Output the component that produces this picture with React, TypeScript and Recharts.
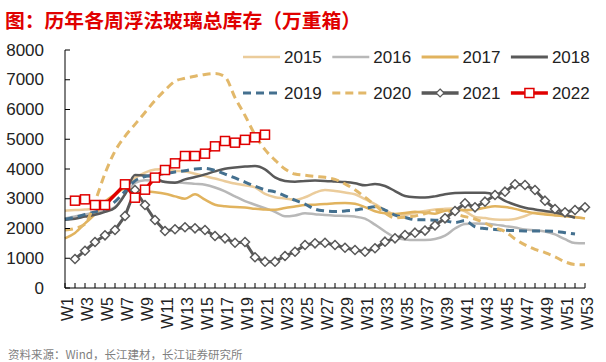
import React from "react";
import { LineChart, Line, XAxis, YAxis } from "recharts";

// week categories on the x axis
const weeks = [
  "W1", "W2", "W3", "W4", "W5", "W6", "W7", "W8", "W9", "W10",
  "W11", "W12", "W13", "W14", "W15", "W16", "W17", "W18", "W19", "W20",
  "W21", "W22", "W23", "W24", "W25", "W26", "W27", "W28", "W29", "W30",
  "W31", "W32", "W33", "W34", "W35", "W36", "W37", "W38", "W39", "W40",
  "W41", "W42", "W43", "W44", "W45", "W46", "W47", "W48", "W49", "W50",
  "W51", "W52", "W53",
];

const yTicks = [0, 1000, 2000, 3000, 4000, 5000, 6000, 7000, 8000];

// inventory, 万重箱
const s2015 = [
  2600, 2620, 2635, 2680, 2860, 3120, 3450, 3700, 3880, 3980,
  4000, 3940, 3915, 3840, 3760, 3680, 3590, 3510, 3450, 3380,
  3160, 3050, 3010, 2960, 3050, 3200, 3290, 3260, 3210, 3150,
  2990, 2820, 2620, 2480, 2460, 2530, 2590, 2640, 2660, 2670,
  2580, 2390, 2350, 2300, 2290, 2320, 2420, 2530, 2510, 2470,
  2430, 2390, 2340,
];
const s2016 = [
  2340, 2400, 2470, 2530, 2590, 2720, 3150, 3530, 3620, 3610,
  3570, 3550, 3530, 3500, 3470, 3380, 3250, 3080, 2920, 2800,
  2680, 2560, 2410, 2440, 2510, 2480, 2450, 2430, 2420, 2400,
  2330, 2130, 1900, 1700, 1630, 1610, 1615, 1650, 1760, 2000,
  2150, 2170, 2160, 2130, 2080, 2030, 1970, 1940, 1900, 1800,
  1640, 1510, 1500,
];
const s2017 = [
  1670, 1850, 2170, 2480, 2900, 3150, 3340, 3310, 3250, 3220,
  3170, 3080, 3000, 3150, 2970, 2800, 2750, 2720, 2710, 2660,
  2640, 2630, 2690, 2740, 2790, 2800, 2820, 2850, 2860, 2830,
  2720, 2580, 2510, 2490, 2520, 2560, 2530, 2500, 2600, 2620,
  2620, 2630, 2700, 2750, 2720, 2660, 2580, 2510, 2470, 2440,
  2410, 2380, 2340,
];
const s2018 = [
  2290, 2330, 2400, 2460, 2560, 2700, 3150, 3800, 3780, 3700,
  3560, 3540, 3650, 3730, 3820, 3920, 4010, 4050, 4080, 4100,
  3990, 3720, 3600, 3575, 3600, 3610, 3600, 3580, 3560, 3520,
  3450, 3500, 3430, 3260, 3090, 3050, 3040, 3080, 3150, 3190,
  3200, 3200, 3200, 3120, 2930, 2800, 2700, 2640, 2590, 2540,
  2460, 2360, null,
];
const s2019 = [
  2310, 2380, 2470, 2560, 2660, 2900, 3250, 3600, 3750, 3800,
  3850, 3900, 3940, 4000, 4020, 3950, 3830, 3700, 3560, 3420,
  3300, 3230, 3100, 2950, 2820, 2650, 2590, 2570, 2590, 2620,
  2680, 2730, 2620, 2450, 2370, 2300, 2290, 2280, 2260, 2200,
  2260, 2060, 2000, 1970, 1940, 1930, 1920, 1915, 1915, 1900,
  1860, 1815, null,
];
const s2020 = [
  1950, 2000, 2150, 2900, 3850, 4600, 5100, 5500, 5900, 6300,
  6650, 6950, 7050, 7120, 7180, 7210, 7100, 6400, 5800, 5150,
  4650, 4300, 4000, 3830, 3790, 3750, 3720, 3650, 3500, 3300,
  3050, 2780, 2520, 2360, 2380, 2420, 2500, 2600, 2620, 2500,
  2400, 2320, 2180, 2020, 1900, 1650, 1450, 1300, 1190, 1050,
  880, 790, 780,
];
const s2021 = [
  null, 975, 1254, 1546, 1770, 1950, 2420, 3294, 2790, 2286,
  1916, 1973, 2040, 2006, 1950, 1748, 1670, 1523, 1546, 1032,
  885, 885, 1075, 1220, 1445, 1502, 1523, 1445, 1355, 1277,
  1220, 1334, 1557, 1670, 1781, 1860, 1930, 2100, 2342, 2588,
  2846, 2712, 2902, 3126, 3238, 3485, 3462, 3294, 2935, 2655,
  2544, 2622, 2712,
];
const s2022 = [
  null, 2935, 2980, 2790, 2790, null, 3485, 3035, 3305, 3710,
  3966, 4190, 4437, 4437, 4515, 4762, 4941, 4885, 4980, 5065,
  5153,
];

const chartData = weeks.map((week, i) => ({
  week,
  y2015: s2015[i],
  y2016: s2016[i],
  y2017: s2017[i],
  y2018: s2018[i],
  y2019: s2019[i],
  y2020: s2020[i],
  y2021: s2021[i],
  y2022: i < s2022.length ? s2022[i] : null,
}));

const FONT = '"Liberation Sans", Arial, sans-serif';
const CJK = '"Noto Sans CJK SC", sans-serif';

const XTick = (props: any) => {
  const { x, y, payload, index } = props;
  return (
    <g>
      <line x1={x} x2={x} y1={y} y2={y - 5} stroke="#000" strokeWidth={1} />
      {index % 2 === 0 && (
        <text
          transform={`translate(${x + 2},${y + 9}) rotate(-90)`}
          textAnchor="end"
          dominantBaseline="central"
          fontSize={16}
          fontFamily={FONT}
          fill="#222"
        >
          {payload.value}
        </text>
      )}
    </g>
  );
};

const YTick = (props: any) => {
  const { x, y, payload } = props;
  return (
    <g>
      <line x1={x} x2={x + 5} y1={y} y2={y} stroke="#000" strokeWidth={1} />
      <text
        x={x - 21}
        y={y}
        textAnchor="end"
        dominantBaseline="central"
        fontSize={17}
        fontFamily={FONT}
        fill="#222"
      >
        {payload.value}
      </text>
    </g>
  );
};

const squareDot = (p: any) => {
  if (p.value == null || p.cx == null) return <g key={p.index} />;
  return (
    <rect
      key={p.index}
      x={p.cx - 4.5}
      y={p.cy - 4.5}
      width={9}
      height={9}
      fill="#fff"
      stroke="#E00000"
      strokeWidth={1.5}
    />
  );
};

const diamondDot = (p: any) => {
  if (p.value == null || p.cx == null) return <g key={p.index} />;
  const { cx, cy } = p;
  const r = 4.5;
  return (
    <polygon
      key={p.index}
      points={`${cx},${cy - r} ${cx + r},${cy} ${cx},${cy + r} ${cx - r},${cy}`}
      fill="#fff"
      stroke="#595959"
      strokeWidth={1.5}
    />
  );
};

// legend entries: label, colour, dash, marker
const legendItems = [
  { name: "2015", color: "#EBCC9B", dash: "", w: 2.5, marker: "" },
  { name: "2016", color: "#B8B8B8", dash: "", w: 2.5, marker: "" },
  { name: "2017", color: "#E1B35E", dash: "", w: 3, marker: "" },
  { name: "2018", color: "#595959", dash: "", w: 3, marker: "" },
  { name: "2019", color: "#44708F", dash: "8 5", w: 3, marker: "" },
  { name: "2020", color: "#E2B86A", dash: "8 5", w: 3, marker: "" },
  { name: "2021", color: "#595959", dash: "", w: 3.5, marker: "diamond" },
  { name: "2022", color: "#E00000", dash: "", w: 3.5, marker: "square" },
];

const ChartLegend = () => (
  <svg
    width={606}
    height={362}
    style={{ position: "absolute", left: 0, top: 0, pointerEvents: "none" }}
  >
    {legendItems.map((item, i) => {
      const x0 = 243 + (i % 4) * 89.3;
      const y0 = i < 4 ? 57 : 93;
      const mid = x0 + 18.5;
      return (
        <g key={item.name}>
          <line
            x1={x0}
            x2={x0 + 37}
            y1={y0}
            y2={y0}
            stroke={item.color}
            strokeWidth={item.w}
            strokeDasharray={item.dash || undefined}
          />
          {item.marker === "diamond" && (
            <polygon
              points={`${mid},${y0 - 4} ${mid + 4},${y0} ${mid},${y0 + 4} ${mid - 4},${y0}`}
              fill="#fff"
              stroke="#595959"
              strokeWidth={1.2}
            />
          )}
          {item.marker === "square" && (
            <rect x={mid - 4.5} y={y0 - 4.5} width={9} height={9} fill="#fff" stroke="#E00000" strokeWidth={1.5} />
          )}
          <text
            x={x0 + 41}
            y={y0}
            dominantBaseline="central"
            fontSize={17}
            fontFamily={FONT}
            fill="#222"
          >
            {item.name}
          </text>
        </g>
      );
    })}
  </svg>
);

export default function App() {
  return (
    <div
      style={{
        position: "absolute",
        left: 0,
        top: 0,
        width: 606,
        height: 362,
        background: "#fff",
        overflow: "hidden",
      }}
    >
      <div
        style={{
          position: "absolute",
          left: 5,
          top: 6,
          fontFamily: CJK,
          fontWeight: 700,
          fontSize: 19.8,
          lineHeight: "28px",
          color: "#E00000",
          whiteSpace: "nowrap",
        }}
      >
        图：历年各周浮法玻璃总库存（万重箱）
      </div>

      <LineChart
        width={606}
        height={362}
        data={chartData}
        margin={{ top: 50, right: 21, bottom: 34, left: 5 }}
      >
        <XAxis
          dataKey="week"
          scale="point"
          padding={{ left: 0, right: 0 }}
          interval={0}
          height={40}
          tickSize={0}
          tickMargin={0}
          tickLine={false}
          axisLine={{ stroke: "#000", strokeWidth: 1 }}
          tick={<XTick />}
        />
        <YAxis
          domain={[0, 8000]}
          ticks={yTicks}
          interval={0}
          width={60}
          tickSize={0}
          tickMargin={0}
          tickLine={false}
          axisLine={{ stroke: "#000", strokeWidth: 1 }}
          tick={<YTick />}
        />
        <Line type="monotone" dataKey="y2015" stroke="#EBCC9B" strokeWidth={2.5} dot={false} isAnimationActive={false} />
        <Line type="monotone" dataKey="y2016" stroke="#B8B8B8" strokeWidth={2.5} dot={false} isAnimationActive={false} />
        <Line type="monotone" dataKey="y2017" stroke="#E1B35E" strokeWidth={2.5} dot={false} isAnimationActive={false} />
        <Line type="monotone" dataKey="y2018" stroke="#595959" strokeWidth={2.5} dot={false} isAnimationActive={false} />
        <Line type="monotone" dataKey="y2019" stroke="#44708F" strokeWidth={3} strokeDasharray="8 5" dot={false} isAnimationActive={false} />
        <Line type="monotone" dataKey="y2020" stroke="#E2B86A" strokeWidth={3} strokeDasharray="8 5" dot={false} isAnimationActive={false} />
        <Line type="linear" dataKey="y2021" stroke="#595959" strokeWidth={3} dot={diamondDot} isAnimationActive={false} />
        <Line type="linear" dataKey="y2022" stroke="#E00000" strokeWidth={3.5} dot={squareDot} connectNulls isAnimationActive={false} />
      </LineChart>

      <ChartLegend />

      <div
        style={{
          position: "absolute",
          left: 8,
          top: 347,
          fontFamily: CJK,
          fontSize: 11.5,
          lineHeight: "14px",
          color: "#7F7F7F",
          whiteSpace: "nowrap",
        }}
      >
        资料来源：Wind，长江建材，长江证券研究所
      </div>
    </div>
  );
}
